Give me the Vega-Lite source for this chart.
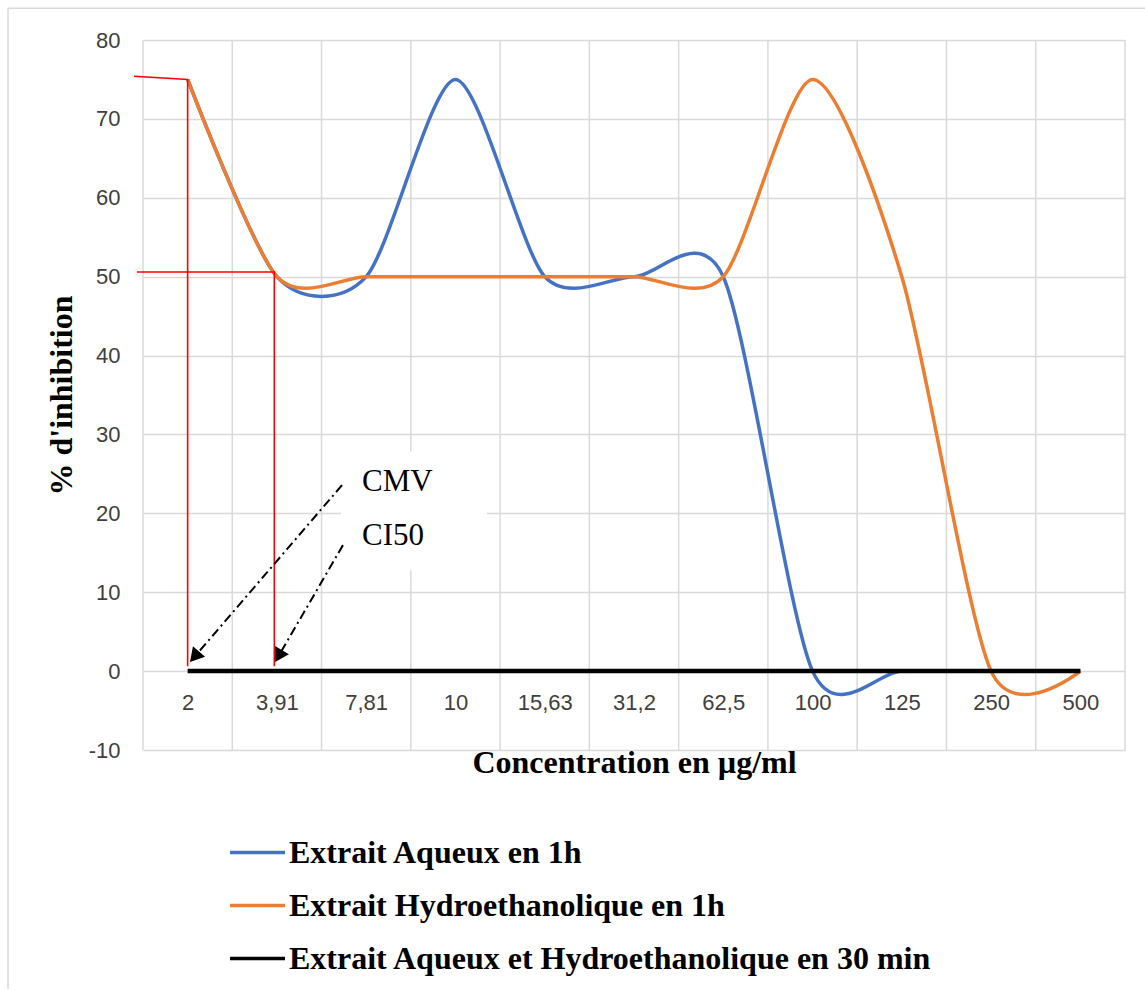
{
  "$schema": "https://vega.github.io/schema/vega-lite/v6.json",
  "width": 982,
  "height": 710,
  "autosize": {"type": "none"},
  "padding": {"left": 143, "top": 40, "right": 20, "bottom": 240},
  "background": "white",
  "config": {"view": {"stroke": null}},
  "datasets": {
    "series": [
      {"c": 0, "v": 75, "s": "Extrait Aqueux en 1h"},
      {"c": 1, "v": 50, "s": "Extrait Aqueux en 1h"},
      {"c": 2, "v": 50, "s": "Extrait Aqueux en 1h"},
      {"c": 3, "v": 75, "s": "Extrait Aqueux en 1h"},
      {"c": 4, "v": 50, "s": "Extrait Aqueux en 1h"},
      {"c": 5, "v": 50, "s": "Extrait Aqueux en 1h"},
      {"c": 6, "v": 50, "s": "Extrait Aqueux en 1h"},
      {"c": 7, "v": 0, "s": "Extrait Aqueux en 1h"},
      {"c": 8, "v": 0, "s": "Extrait Aqueux en 1h"},
      {"c": 9, "v": 0, "s": "Extrait Aqueux en 1h"},
      {"c": 10, "v": 0, "s": "Extrait Aqueux en 1h"},
      {"c": 0, "v": 75, "s": "Extrait Hydroethanolique en 1h"},
      {"c": 1, "v": 50, "s": "Extrait Hydroethanolique en 1h"},
      {"c": 2, "v": 50, "s": "Extrait Hydroethanolique en 1h"},
      {"c": 3, "v": 50, "s": "Extrait Hydroethanolique en 1h"},
      {"c": 4, "v": 50, "s": "Extrait Hydroethanolique en 1h"},
      {"c": 5, "v": 50, "s": "Extrait Hydroethanolique en 1h"},
      {"c": 6, "v": 50, "s": "Extrait Hydroethanolique en 1h"},
      {"c": 7, "v": 75, "s": "Extrait Hydroethanolique en 1h"},
      {"c": 8, "v": 50, "s": "Extrait Hydroethanolique en 1h"},
      {"c": 9, "v": 0, "s": "Extrait Hydroethanolique en 1h"},
      {"c": 10, "v": 0, "s": "Extrait Hydroethanolique en 1h"},
      {"c": 0, "v": 0, "s": "Extrait Aqueux et Hydroethanolique en 30 min"},
      {"c": 1, "v": 0, "s": "Extrait Aqueux et Hydroethanolique en 30 min"},
      {"c": 2, "v": 0, "s": "Extrait Aqueux et Hydroethanolique en 30 min"},
      {"c": 3, "v": 0, "s": "Extrait Aqueux et Hydroethanolique en 30 min"},
      {"c": 4, "v": 0, "s": "Extrait Aqueux et Hydroethanolique en 30 min"},
      {"c": 5, "v": 0, "s": "Extrait Aqueux et Hydroethanolique en 30 min"},
      {"c": 6, "v": 0, "s": "Extrait Aqueux et Hydroethanolique en 30 min"},
      {"c": 7, "v": 0, "s": "Extrait Aqueux et Hydroethanolique en 30 min"},
      {"c": 8, "v": 0, "s": "Extrait Aqueux et Hydroethanolique en 30 min"},
      {"c": 9, "v": 0, "s": "Extrait Aqueux et Hydroethanolique en 30 min"},
      {"c": 10, "v": 0, "s": "Extrait Aqueux et Hydroethanolique en 30 min"}
    ],
    "vgrid": [
      {"c": -0.5}, {"c": 0.5}, {"c": 1.5}, {"c": 2.5}, {"c": 3.5}, {"c": 4.5},
      {"c": 5.5}, {"c": 6.5}, {"c": 7.5}, {"c": 8.5}, {"c": 9.5}, {"c": 10.5}
    ],
    "red": [
      {"g": 1, "o": 1, "c": -0.6, "v": 75.4},
      {"g": 1, "o": 2, "c": 0.0, "v": 75.0},
      {"g": 1, "o": 3, "c": 0.0, "v": 0.63},
      {"g": 2, "o": 1, "c": -0.567, "v": 50.6},
      {"g": 2, "o": 2, "c": 0.971, "v": 50.6},
      {"g": 2, "o": 3, "c": 0.971, "v": 0.63}
    ],
    "arrows": [
      {"g": 1, "o": 1, "c": 1.729, "v": 23.57},
      {"g": 1, "o": 2, "c": 0.077, "v": 1.81},
      {"g": 2, "o": 1, "c": 1.74, "v": 15.97},
      {"g": 2, "o": 2, "c": 1.018, "v": 1.9}
    ],
    "heads": [
      {"k": "CMV", "c": 0.077, "v": 1.81},
      {"k": "CI50", "c": 1.018, "v": 1.9}
    ],
    "notes": [
      {"c": 1.953, "v": 22.82, "t": "CMV"},
      {"c": 1.953, "v": 15.97, "t": "CI50"}
    ],
    "box": [
      {"c": 1.718, "c2": 3.353, "v": 27.85, "v2": 12.78}
    ],
    "border": [
      {"c": -2.012, "c2": 10.724, "v": 84.04, "v2": 84.04},
      {"c": -2.012, "c2": -2.012, "v": 84.04, "v2": -40.3}
    ]
  },
  "layer": [
    {
      "data": {"name": "border"},
      "mark": {"type": "rule", "color": "#d9d9d9", "strokeWidth": 1.5, "clip": false},
      "encoding": {
        "x": {"field": "c", "type": "quantitative",
          "scale": {"domain": [-0.5, 10.5], "nice": false, "zero": false},
          "axis": {"orient": "bottom", "values": [0, 1, 2, 3, 4, 5, 6, 7, 8, 9, 10], "grid": false, "ticks": false,
            "domain": false, "offset": -78, "labelFlush": false, "labelOverlap": false,
            "labelExpr": "['2','3,91','7,81','10','15,63','31,2','62,5','100','125','250','500'][datum.value]",
            "labelFont": "Liberation Sans", "labelFontSize": 22, "labelColor": "#404040", "labelPadding": 20,
            "title": "Concentration en µg/ml", "titleFont": "Liberation Serif", "titleFontSize": 32,
            "titleFontWeight": "bold", "titleColor": "#000000", "titlePadding": 34}},
        "x2": {"field": "c2"},
        "y": {"field": "v", "type": "quantitative",
          "scale": {"domain": [-10, 80], "nice": false, "zero": false},
          "axis": {"values": [-10, 0, 10, 20, 30, 40, 50, 60, 70, 80], "grid": true, "gridColor": "#d9d9d9",
            "gridWidth": 1.5, "ticks": false, "domain": false, "labelFlush": false, "labelOverlap": false,
            "labelFont": "Liberation Sans", "labelFontSize": 22, "labelColor": "#404040", "labelPadding": 23,
            "labelExpr": "'' + datum.value",
            "title": "% d'inhibition", "titleFont": "Liberation Serif", "titleFontSize": 32,
            "titleFontWeight": "bold", "titleColor": "#000000", "titlePadding": 10}},
        "y2": {"field": "v2"}
      }
    },
    {
      "data": {"name": "vgrid"},
      "mark": {"type": "rule", "color": "#d9d9d9", "strokeWidth": 1.5, "clip": false},
      "encoding": {
        "x": {"field": "c", "type": "quantitative", "scale": {"domain": [-0.5, 10.5], "nice": false, "zero": false}}
      }
    },
    {
      "data": {"name": "box"},
      "mark": {"type": "rect", "fill": "#ffffff", "stroke": null, "clip": false},
      "encoding": {
        "x": {"field": "c", "type": "quantitative", "scale": {"domain": [-0.5, 10.5], "nice": false, "zero": false}},
        "x2": {"field": "c2"},
        "y": {"field": "v", "type": "quantitative", "scale": {"domain": [-10, 80], "nice": false, "zero": false}},
        "y2": {"field": "v2"}
      }
    },
    {
      "data": {"name": "series"},
      "transform": [{"filter": "datum.s == 'Extrait Aqueux en 1h'"}],
      "mark": {"type": "line", "interpolate": "cardinal", "tension": 0.2, "strokeWidth": 3.5, "clip": false},
      "encoding": {
        "x": {"field": "c", "type": "quantitative", "scale": {"domain": [-0.5, 10.5], "nice": false, "zero": false}},
        "y": {"field": "v", "type": "quantitative", "scale": {"domain": [-10, 80], "nice": false, "zero": false}},
        "color": {"field": "s", "type": "nominal",
          "scale": {"domain": ["Extrait Aqueux en 1h", "Extrait Hydroethanolique en 1h", "Extrait Aqueux et Hydroethanolique en 30 min"],
            "range": ["#4472C4", "#ED7D31", "#000000"]},
          "legend": {"orient": "none", "legendX": 85, "legendY": 783, "title": null, "symbolType": "stroke",
            "symbolSize": 3025, "symbolStrokeWidth": 3.5, "labelFont": "Liberation Serif", "labelFontSize": 32,
            "labelFontWeight": "bold", "labelColor": "#000000", "labelOffset": 2, "rowPadding": 7,
            "padding": 0, "labelLimit": 1000}}
      }
    },
    {
      "data": {"name": "series"},
      "transform": [{"filter": "datum.s == 'Extrait Hydroethanolique en 1h'"}],
      "mark": {"type": "line", "interpolate": "cardinal", "tension": 0.2, "strokeWidth": 3.5, "clip": false},
      "encoding": {
        "x": {"field": "c", "type": "quantitative", "scale": {"domain": [-0.5, 10.5], "nice": false, "zero": false}},
        "y": {"field": "v", "type": "quantitative", "scale": {"domain": [-10, 80], "nice": false, "zero": false}},
        "color": {"field": "s", "type": "nominal",
          "scale": {"domain": ["Extrait Aqueux en 1h", "Extrait Hydroethanolique en 1h", "Extrait Aqueux et Hydroethanolique en 30 min"],
            "range": ["#4472C4", "#ED7D31", "#000000"]},
          "legend": {"orient": "none", "legendX": 85, "legendY": 783, "title": null, "symbolType": "stroke",
            "symbolSize": 3025, "symbolStrokeWidth": 3.5, "labelFont": "Liberation Serif", "labelFontSize": 32,
            "labelFontWeight": "bold", "labelColor": "#000000", "labelOffset": 2, "rowPadding": 7,
            "padding": 0, "labelLimit": 1000}}
      }
    },
    {
      "data": {"name": "red"},
      "mark": {"type": "line", "color": "#ff0000", "strokeWidth": 1.6, "clip": false},
      "encoding": {
        "x": {"field": "c", "type": "quantitative", "scale": {"domain": [-0.5, 10.5], "nice": false, "zero": false}},
        "y": {"field": "v", "type": "quantitative", "scale": {"domain": [-10, 80], "nice": false, "zero": false}},
        "detail": {"field": "g", "type": "nominal"},
        "order": {"field": "o", "type": "quantitative"}
      }
    },
    {
      "data": {"name": "series"},
      "transform": [{"filter": "datum.s == 'Extrait Aqueux et Hydroethanolique en 30 min'"}],
      "mark": {"type": "line", "interpolate": "cardinal", "tension": 0.2, "strokeWidth": 4.5, "clip": false},
      "encoding": {
        "x": {"field": "c", "type": "quantitative", "scale": {"domain": [-0.5, 10.5], "nice": false, "zero": false}},
        "y": {"field": "v", "type": "quantitative", "scale": {"domain": [-10, 80], "nice": false, "zero": false}},
        "color": {"field": "s", "type": "nominal",
          "scale": {"domain": ["Extrait Aqueux en 1h", "Extrait Hydroethanolique en 1h", "Extrait Aqueux et Hydroethanolique en 30 min"],
            "range": ["#4472C4", "#ED7D31", "#000000"]},
          "legend": {"orient": "none", "legendX": 85, "legendY": 783, "title": null, "symbolType": "stroke",
            "symbolSize": 3025, "symbolStrokeWidth": 3.5, "labelFont": "Liberation Serif", "labelFontSize": 32,
            "labelFontWeight": "bold", "labelColor": "#000000", "labelOffset": 2, "rowPadding": 7,
            "padding": 0, "labelLimit": 1000}}
      }
    },
    {
      "data": {"name": "arrows"},
      "mark": {"type": "line", "color": "#000000", "strokeWidth": 2, "strokeDash": [9, 4, 2, 4], "clip": false},
      "encoding": {
        "x": {"field": "c", "type": "quantitative", "scale": {"domain": [-0.5, 10.5], "nice": false, "zero": false}},
        "y": {"field": "v", "type": "quantitative", "scale": {"domain": [-10, 80], "nice": false, "zero": false}},
        "detail": {"field": "g", "type": "nominal"},
        "order": {"field": "o", "type": "quantitative"}
      }
    },
    {
      "data": {"name": "heads"},
      "transform": [{"filter": "datum.k == 'CMV'"}],
      "mark": {"type": "point", "shape": "triangle-up", "size": 256, "filled": true, "color": "#000000", "opacity": 1, "angle": 220.6, "clip": false},
      "encoding": {
        "x": {"field": "c", "type": "quantitative", "scale": {"domain": [-0.5, 10.5], "nice": false, "zero": false}},
        "y": {"field": "v", "type": "quantitative", "scale": {"domain": [-10, 80], "nice": false, "zero": false}}
      }
    },
    {
      "data": {"name": "heads"},
      "transform": [{"filter": "datum.k == 'CI50'"}],
      "mark": {"type": "point", "shape": "triangle-up", "size": 256, "filled": true, "color": "#000000", "opacity": 1, "angle": 210.2, "clip": false},
      "encoding": {
        "x": {"field": "c", "type": "quantitative", "scale": {"domain": [-0.5, 10.5], "nice": false, "zero": false}},
        "y": {"field": "v", "type": "quantitative", "scale": {"domain": [-10, 80], "nice": false, "zero": false}}
      }
    },
    {
      "data": {"name": "notes"},
      "mark": {"type": "text", "font": "Liberation Serif", "fontSize": 31, "align": "left", "baseline": "alphabetic", "color": "#000000", "clip": false},
      "encoding": {
        "x": {"field": "c", "type": "quantitative", "scale": {"domain": [-0.5, 10.5], "nice": false, "zero": false}},
        "y": {"field": "v", "type": "quantitative", "scale": {"domain": [-10, 80], "nice": false, "zero": false}},
        "text": {"field": "t", "type": "nominal"}
      }
    }
  ]
}
